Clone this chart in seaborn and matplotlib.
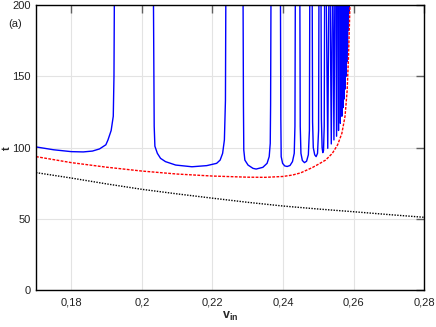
import pandas as pd
import seaborn as sns
import matplotlib.pyplot as plt

# blue curve: broad windows between resonances (v_in, t)
b0_v = [0.170, 0.175, 0.180, 0.1834, 0.186, 0.188, 0.1898, 0.1904, 0.1913, 0.1919, 0.1921, 0.1922]
b0_t = [100.5, 98.5, 97.2, 97.0, 97.6, 99.1, 102.0, 105.4, 112.0, 122.0, 150.0, 200.0]
b1_v = [0.2033, 0.2035, 0.2037, 0.2044, 0.2053, 0.2067, 0.2096, 0.2142, 0.2184, 0.2212, 0.2222, 0.2229, 0.2234, 0.2237, 0.2238]
b1_t = [200, 115, 101, 96, 92.5, 90.2, 87.8, 86.6, 87.4, 89, 91.3, 96, 105.4, 133, 200]
b2_v = [0.2287, 0.2288, 0.2289, 0.2292, 0.2301, 0.2315, 0.2324, 0.2343, 0.2355, 0.2361, 0.2364, 0.2365, 0.2366]
b2_t = [200, 130, 98.3, 91.3, 87.8, 85.5, 85.0, 86.2, 89.0, 93.7, 103, 130, 200]
b3_v = [0.2393, 0.2394, 0.2395, 0.2399, 0.2405, 0.2412, 0.2420, 0.2427, 0.2432, 0.2434, 0.2435]
b3_t = [200, 120, 93.7, 89.0, 87.2, 86.8, 87.5, 90.2, 96.0, 115, 200]
b4_v = [0.2448, 0.2449, 0.2451, 0.2455, 0.2461, 0.2467, 0.2472, 0.2475, 0.2476]
b4_t = [200, 115, 96, 91, 89.5, 90.5, 95, 112, 200]
b5_v = [0.2483, 0.2484, 0.2486, 0.2490, 0.2494, 0.2498, 0.2501, 0.2502]
b5_t = [200, 118, 100, 95, 93.7, 96, 112, 200]
b6_v = [0.2508, 0.2509, 0.2511, 0.2513, 0.2515, 0.2517, 0.2518]
b6_t = [200, 120, 100, 96.5, 98, 115, 200]

# narrow windows close to the threshold: left wall, bottom position, bottom value, right wall
res_left = [0.2523, 0.2534, 0.2542, 0.2550, 0.2556, 0.2561, 0.2566, 0.2569, 0.2572, 0.2575, 0.2578, 0.2580, 0.2582, 0.2584, 0.2586]
res_mid = [0.2527, 0.2537, 0.25445, 0.2552, 0.25575, 0.25625, 0.2567, 0.2570, 0.2573, 0.2576, 0.2579, 0.2581, 0.2583, 0.2585, 0.2587]
res_low = [99.5, 102.6, 105.4, 108, 112, 117, 122, 128, 134, 141, 150, 160, 170, 182, 194]
res_right = [0.2530, 0.2540, 0.2547, 0.2554, 0.2559, 0.2564, 0.2568, 0.2571, 0.2574, 0.2577, 0.2580, 0.2582, 0.2584, 0.2586, 0.2588]

# red dashed curve
red_v = [0.170, 0.180, 0.190, 0.200, 0.210, 0.220, 0.230, 0.235, 0.240, 0.2427, 0.2450,
         0.2483, 0.2500, 0.2521, 0.2540, 0.2555, 0.2567, 0.2576, 0.2582, 0.2586, 0.2590]
red_t = [93.7, 89.5, 86.3, 83.6, 81.5, 80.1, 79.3, 79.2, 79.8, 80.8, 82.3,
         86.0, 88.3, 91.3, 96.0, 102, 110, 122, 140, 165, 200]

# black dotted curve
blk_v = [0.17, 0.18, 0.19, 0.20, 0.21, 0.22, 0.23, 0.24, 0.25, 0.26, 0.27, 0.28]
blk_t = [82.5, 78.7, 74.6, 70.8, 67.6, 64.6, 61.7, 59.1, 57.0, 55.1, 53.1, 51.2]

x_ticks = [0.18, 0.20, 0.22, 0.24, 0.26, 0.28]
x_tick_labels = ["0,18", "0,2", "0,22", "0,24", "0,26", "0,28"]
y_ticks = [0, 50, 100, 150, 200]

# one frame for the blue curve, one unit per window
rows = []
broad = [(b0_v, b0_t), (b1_v, b1_t), (b2_v, b2_t), (b3_v, b3_t), (b4_v, b4_t), (b5_v, b5_t), (b6_v, b6_t)]
for i, (vs, ts) in enumerate(broad):
    for v, t in zip(vs, ts):
        rows.append((i, v, t))
for j, (l, m, lo, r) in enumerate(zip(res_left, res_mid, res_low, res_right)):
    k = len(broad) + j
    rows += [(k, l, 200), (k, m, lo), (k, r, 200)]
blue = pd.DataFrame(rows, columns=["win", "v", "t"])

sns.set_style("white")
plt.rcParams["font.family"] = ["Liberation Sans", "DejaVu Sans"]
plt.rcParams["mathtext.fontset"] = "custom"
plt.rcParams["mathtext.bf"] = "Liberation Sans:bold"
plt.rcParams["mathtext.rm"] = "Liberation Sans"

fig = plt.figure(figsize=(4.36, 3.27), dpi=100)
ax = fig.add_axes([0.0826, 0.112, 0.890, 0.873])

sns.lineplot(x=blk_v, y=blk_t, ax=ax, color="black", lw=1, linestyle=(0, (1, 1)), sort=False)
sns.lineplot(data=blue, x="v", y="t", units="win", estimator=None, sort=False,
             ax=ax, color="#0000ff", lw=1, legend=False)
sns.lineplot(x=red_v, y=red_t, ax=ax, color="#ff0000", lw=1, linestyle=(0, (2, 1)), sort=False)

ax.set_xlim(0.17, 0.28)
ax.set_ylim(0, 200)
ax.set_xticks(x_ticks)
ax.set_xticklabels(x_tick_labels)
ax.set_yticks(y_ticks)
ax.grid(True, color="#e3e3e3", lw=0.8)
ax.tick_params(direction="in", length=6, width=1, color="#606060", labelsize=8,
               top=True, right=True, pad=5, labelcolor="#222222")
ax.tick_params(axis="y", pad=4)
for s in ax.spines.values():
    s.set_color("black")
    s.set_linewidth(1)

ax.set_xlabel(r"$\mathbf{v}_{\mathbf{in}}$", fontsize=9, labelpad=2)
ax.set_ylabel("t", fontsize=8, fontweight="bold")
ax.yaxis.set_label_coords(-0.063, 0.5)
fig.text(0.018, 0.917, "(a)", fontsize=8, color="#222222")

fig.savefig("out.png", dpi=100)
